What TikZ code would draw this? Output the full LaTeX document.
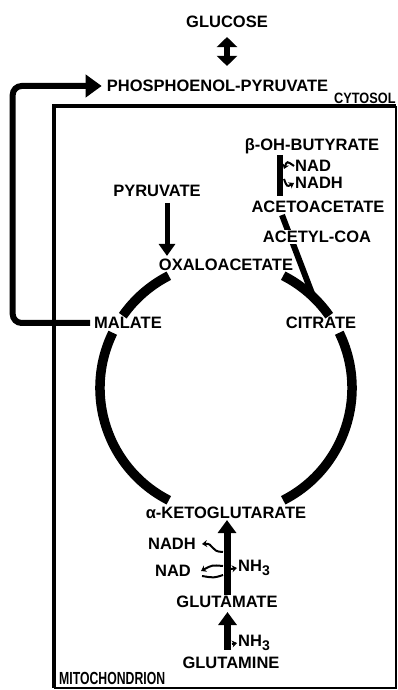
\documentclass[tikz,border=0pt]{standalone}
\usepackage{fontspec}
\setmainfont{Liberation Sans}
\newfontfamily\condfont[FakeStretch=0.7]{Liberation Sans}
\newfontfamily\semicondfont[FakeStretch=0.85]{Liberation Sans}
\usetikzlibrary{arrows.meta,calc}
\tikzset{
  lbl/.style={font=\fontsize{16.5}{18}\selectfont\bfseries, inner sep=1pt},
  region/.style={anchor=west, inner sep=1pt},
  ringarc/.style={line width=9.5pt},
  fatline/.style={line width=6pt},
  bigarrow/.style={line width=7pt, -{Triangle[width=18pt,length=13pt]}},
  hook/.style={line width=2pt, -{Stealth[length=5pt,width=7pt]}},
}
\newcommand{\nhthree}{NH\raisebox{-4pt}{\fontsize{14}{15}\selectfont 3}}

\begin{document}
\begin{tikzpicture}[x=1pt,y=1pt]
  \useasboundingbox (0,0) rectangle (398,690);
  % mitochondrion wall
  \draw[line width=4pt] (53.5,2) |- (396,584);
  \draw[line width=2pt] (53.5,2) -| (396,584);

  \node[lbl] (glucose) at (227,668) {GLUCOSE};
  \node[lbl] (pep) at (217.5,604) {PHOSPHOENOL-PYRUVATE};
  \node[region, font=\semicondfont\bfseries\fontsize{15}{16}\selectfont] (cytosol) at (333,592) {CYTOSOL};
  \node[region, font=\condfont\bfseries\fontsize{17.5}{19}\selectfont] (mito) at (58,12) {MITOCHONDRION};

  \node[lbl] (pyruvate) at (157,499) {PYRUVATE};
  \node[lbl] (oxalo) at (226,425) {OXALOACETATE};
  \node[lbl] (malate) at (128,367) {MALATE};
  \node[lbl] (citrate) at (321,367) {CITRATE};
  \node[lbl] (akg) at (226,177) {α-KETOGLUTARATE};

  \node[lbl] (butyrate) at (312,544) {β-OH-BUTYRATE};
  \node[lbl, anchor=west] (nadA) at (294,524) {NAD};
  \node[lbl, anchor=west] (nadhA) at (294,507) {NADH};
  \node[lbl] (acetoac) at (318,483) {ACETOACETATE};

  \node[lbl] (glutamate) at (227,88) {GLUTAMATE};
  \node[lbl] (glutamine) at (231,27) {GLUTAMINE};
  \node[lbl] (nadhB) at (172,146) {NADH};
  \node[lbl] (nadB) at (173,119) {NAD};
  \node[lbl, anchor=west] (nh3A) at (237,122) {\nhthree};
  \node[lbl, anchor=west] (nh3B) at (237,47) {\nhthree};

  % citric acid cycle
  \coordinate (ctr) at (226,302);
  \draw[ringarc] ($(ctr)+(117:126)$) arc[start angle=117, end angle=145, radius=126];
  \draw[ringarc] ($(ctr)+(154:126)$) arc[start angle=154, end angle=243, radius=126];
  \draw[ringarc] ($(ctr)+(297:126)$) arc[start angle=297, end angle=386, radius=126];
  \draw[ringarc] ($(ctr)+(35:126)$) arc[start angle=35, end angle=63, radius=126];

  % ketone bodies
  \coordinate (citjoin) at ($(ctr)+(46:126)$);
  \draw[fatline] ([xshift=-36pt,yshift=-1pt]acetoac.south) -- (citjoin);
  \node[lbl, fill=white] (acetylcoa) at (317,453) {ACETYL-COA};
  \draw[fatline, shorten >=4pt] ([xshift=-32pt]butyrate.south) -- ([xshift=-38pt]acetoac.north);
  \coordinate (bA) at (284,521);
  \coordinate (bB) at (284,511);
  \draw[hook] (nadA.west) .. controls (287,529) .. (bA);
  \draw[hook] (bB) .. controls (287,503) .. (nadhA.west);

  \draw[-{Triangle[width=16pt,length=12pt]}, line width=5pt, shorten <=5pt, shorten >=2pt]
    ([xshift=10pt]pyruvate.south) -- ([xshift=10pt]pyruvate.south |- oxalo.north);

  % malate out to the cytosol
  \draw[fatline, rounded corners=9pt, -{Triangle[width=22pt,length=16pt]}]
    ([xshift=-3pt]malate.west) -| ([xshift=-93pt]pep.west) -- ([xshift=-4pt]pep.west);

  \draw[line width=6pt, {Triangle[width=20pt,length=10pt]}-{Triangle[width=20pt,length=10pt]}]
    ([yshift=-8pt]glucose.south) -- ([yshift=13pt]glucose.south |- pep.north);

  % glutamine side
  \draw[bigarrow] (glutamate.north) -- (glutamate.north |- akg.south);
  \draw[bigarrow, shorten <=6pt, shorten >=3pt] ([xshift=-3.5pt]glutamine.north) -- ([xshift=-3.5pt]glutamine.north |- glutamate.south);
  \coordinate (gA) at (223,138);
  \coordinate (gB) at (223,124);
  \coordinate (gC) at (223,115);
  \coordinate (gD) at (231,121);
  \coordinate (gE) at (232,46);
  \draw[hook] (gA) .. controls (210,138) and (214,147) .. ([xshift=5pt]nadhB.east);
  \draw[hook] (gB) .. controls (212,125) .. ([xshift=9pt]nadB.east);
  \draw[line width=2pt] ([xshift=10pt,yshift=-5pt]nadB.east) .. controls (214,112) .. (gC);
  \draw[hook] (gD) -- (nh3A.west);
  \draw[hook] (gE) -- (nh3B.west);
\end{tikzpicture}
\end{document}
